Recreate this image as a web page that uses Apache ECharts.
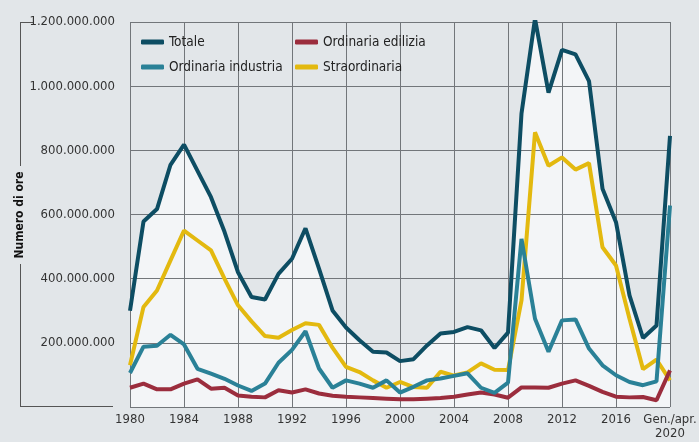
<!DOCTYPE html>
<html>
<head>
<meta charset="utf-8">
<script src="https://cdn.jsdelivr.net/npm/echarts@6/dist/echarts.min.js"></script>
<style>
html,body{margin:0;padding:0;background:#e2e6e9;}
#chart{width:699px;height:442px;}
</style>
</head>
<body>
<div id="chart"></div>
<script>
const categories = ['1980','1981','1982','1983','1984','1985','1986','1987','1988','1989',
  '1990','1991','1992','1993','1994','1995','1996','1997','1998','1999',
  '2000','2001','2002','2003','2004','2005','2006','2007','2008','2009',
  '2010','2011','2012','2013','2014','2015','2016','2017','2018','2019','Gen./apr.\n2020'];

// values in millions of hours
const totale = [300,578,617,755,818,736,654,546,420,343,
  335,415,462,557,431,301,248,208,172,170,
  143,149,192,229,234,249,239,184,232,915,
  1210,980,1113,1099,1016,680,576,348,215,254,845];
const straordinaria = [130,312,363,457,550,519,488,400,317,267,
  221,216,240,261,256,185,125,109,83,60,
  78,62,60,110,98,108,136,116,115,332,
  856,752,778,740,760,498,441,275,118,148,83];
const ordIndustria = [106,188,191,225,195,119,104,88,67,50,
  73,138,178,236,120,60,83,73,60,83,
  45,63,83,89,97,105,60,44,76,524,
  275,172,270,273,182,130,99,78,68,80,628];
const ordEdilizia = [60,73,55,55,73,86,57,60,36,32,
  30,52,45,55,42,35,32,30,28,26,
  24,24,26,28,32,39,45,39,29,61,
  61,60,73,83,66,47,32,30,31,21,114];

const yTicks = [0,200000000,400000000,600000000,800000000,1000000000,1200000000];

const M = 1e6;
const toHours = a => a.map(v => v * M);
const FONT = "'Liberation Sans Narrow','DejaVu Sans Condensed','Roboto',sans-serif";
const C_TOT = '#0d4d63', C_IND = '#2a8197', C_EDI = '#9b2d3d', C_STR = '#e3b90f';
const GRIDC = '#72767a';

function fmt(v){
  if (v === 0) return '';
  return String(Math.round(v)).replace(/\B(?=(\d{3})+(?!\d))/g, '.');
}

const chart = echarts.init(document.getElementById('chart'), null, {renderer:'canvas'});
chart.setOption({
  backgroundColor: '#e2e6e9',
  animation: false,
  textStyle: {fontFamily: FONT},
  grid: {left: 130, right: 29, top: 22, bottom: 35, outerBoundsMode: 'none', containLabel: false},
  legend: [
    {data: ['Totale','Ordinaria industria'], orient: 'vertical', left: 141, top: 34, padding: 0,
     itemWidth: 23, itemHeight: 5, itemGap: 9, icon: 'roundRect',
     textStyle: {fontFamily: FONT, fontSize: 13.5, color: '#222', lineHeight: 16}},
    {data: ['Ordinaria edilizia','Straordinaria'], orient: 'vertical', left: 295, top: 34, padding: 0,
     itemWidth: 23, itemHeight: 5, itemGap: 9, icon: 'roundRect',
     textStyle: {fontFamily: FONT, fontSize: 13.5, color: '#222', lineHeight: 16}}
  ],
  xAxis: {
    type: 'category', data: categories, boundaryGap: false, z: 1,
    axisLine: {show: false}, axisTick: {show: false},
    axisLabel: {interval: 3, fontFamily: FONT, fontSize: 13, color: '#333', margin: 6, lineHeight: 14},
    splitLine: {show: true, interval: 3, lineStyle: {color: GRIDC, width: 1}}
  },
  yAxis: {
    type: 'value', min: yTicks[0], max: yTicks[yTicks.length-1], interval: yTicks[1]-yTicks[0], z: 1,
    axisLine: {show: false}, axisTick: {show: false},
    axisLabel: {formatter: fmt, fontFamily: FONT, fontSize: 13, color: '#333', margin: 15},
    splitLine: {show: true, lineStyle: {color: GRIDC, width: 1}}
  },
  graphic: [
    {type: 'line', shape: {x1: 20, y1: 22.5, x2: 33, y2: 22.5}, style: {stroke: '#555', lineWidth: 1}},
    {type: 'line', shape: {x1: 20.5, y1: 22, x2: 20.5, y2: 166}, style: {stroke: '#555', lineWidth: 1}},
    {type: 'line', shape: {x1: 20.5, y1: 264, x2: 20.5, y2: 407}, style: {stroke: '#555', lineWidth: 1}},
    {type: 'line', shape: {x1: 20, y1: 406.5, x2: 113, y2: 406.5}, style: {stroke: '#555', lineWidth: 1}},
    {type: 'text', x: 20, y: 215, rotation: Math.PI/2,
     style: {text: 'Numero di ore', fontFamily: FONT, fontSize: 12, fontWeight: 'bold', fill: '#111',
             align: 'center', verticalAlign: 'middle'}}
  ],
  series: [
    {name: 'area', type: 'line', data: toHours(totale), z: 0, silent: true, symbol: 'none',
     lineStyle: {width: 0, opacity: 0}, areaStyle: {color: '#f3f5f7', opacity: 1}},
    {name: 'Totale', type: 'line', data: toHours(totale), z: 5, symbol: 'none', color: C_TOT,
     lineStyle: {width: 4, color: C_TOT}},
    {name: 'Straordinaria', type: 'line', data: toHours(straordinaria), z: 2, symbol: 'none', color: C_STR,
     lineStyle: {width: 4, color: C_STR}},
    {name: 'Ordinaria industria', type: 'line', data: toHours(ordIndustria), z: 4, symbol: 'none', color: C_IND,
     lineStyle: {width: 4, color: C_IND}},
    {name: 'Ordinaria edilizia', type: 'line', data: toHours(ordEdilizia), z: 3, symbol: 'none', color: C_EDI,
     lineStyle: {width: 4, color: C_EDI}}
  ]
});
</script>
</body>
</html>
